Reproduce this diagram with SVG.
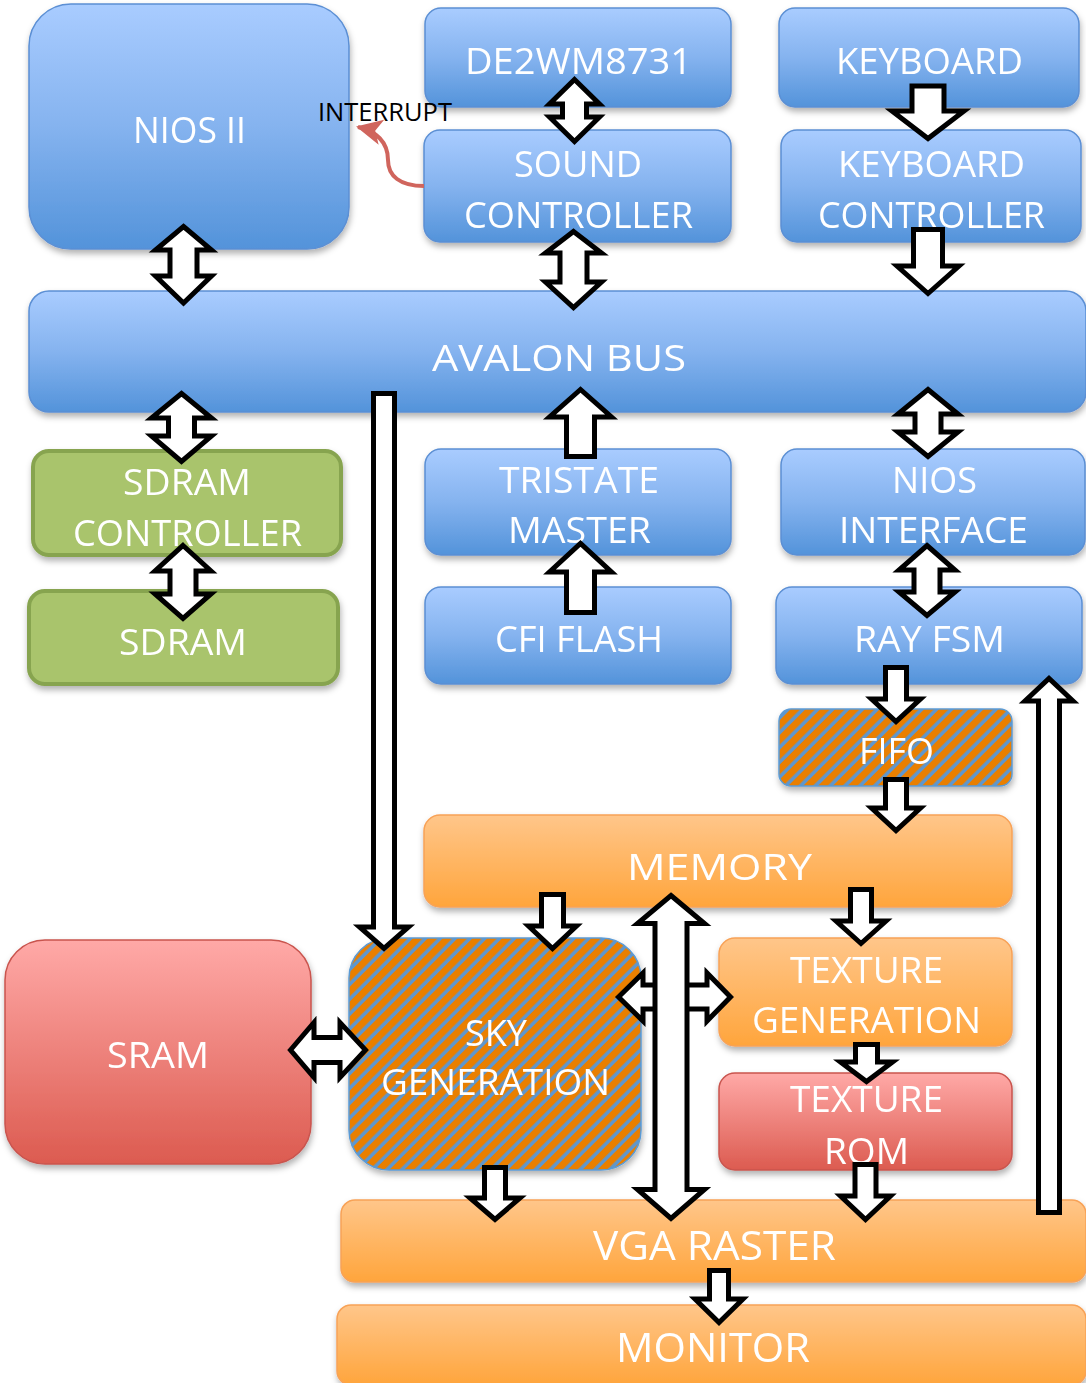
<svg xmlns="http://www.w3.org/2000/svg" width="1086" height="1383" viewBox="0 0 1086 1383">
  <style>
    .lbl { font-family: "Open Sans", "Noto Sans", "Liberation Sans", sans-serif; font-size: 37px; fill: #ffffff; text-anchor: middle; }
    .big { font-size: 41px; }
    .note { font-family: "Open Sans", "Noto Sans", "Liberation Sans", sans-serif; font-size: 25px; fill: #000000; }
    .blue { fill: url(#gBlue); stroke: #5b8fd4; stroke-width: 1.5; }
    .orange { fill: url(#gOrange); stroke: #f8a257; stroke-width: 1.5; }
    .red { fill: url(#gRed); stroke: #c9544e; stroke-width: 1.5; }
    .green { fill: #a9c46c; stroke: #87a450; stroke-width: 4; }
    .hatch { fill: url(#stripes); stroke: #5b9bd5; stroke-width: 1.5; }
    .arr { fill: #ffffff; stroke: #000000; stroke-width: 5; stroke-linejoin: miter; stroke-miterlimit: 10; }
    .irq { fill: none; stroke: #d0655d; stroke-width: 4; }
  </style>
  <defs>
    <linearGradient id="gBlue" x1="0" y1="0" x2="0" y2="1">
      <stop offset="0" stop-color="#a9ccff"/>
      <stop offset="0.5" stop-color="#85b3ef"/>
      <stop offset="1" stop-color="#5393da"/>
    </linearGradient>
    <linearGradient id="gOrange" x1="0" y1="0" x2="0" y2="1">
      <stop offset="0" stop-color="#ffc68a"/>
      <stop offset="1" stop-color="#ffa53c"/>
    </linearGradient>
    <linearGradient id="gRed" x1="0" y1="0" x2="0" y2="1">
      <stop offset="0" stop-color="#ffa9a7"/>
      <stop offset="1" stop-color="#dc5b50"/>
    </linearGradient>
    <pattern id="stripes" patternUnits="userSpaceOnUse" width="10.5" height="10.5" patternTransform="rotate(45)">
      <rect x="0" y="0" width="10.5" height="10.5" fill="#5b97d1"/>
      <rect x="0" y="0" width="7" height="10.5" fill="#e97f04"/>
    </pattern>
    <filter id="shadow" x="-10%" y="-10%" width="120%" height="130%">
      <feDropShadow dx="1" dy="4" stdDeviation="3" flood-color="#000000" flood-opacity="0.3"/>
    </filter>
    <marker id="irqHead" markerWidth="8" markerHeight="8" refX="6" refY="4" orient="auto" markerUnits="strokeWidth">
      <path d="M0,0.8 L6.5,4 L0,7.2 L1.6,4 Z" fill="#d0655d"/>
    </marker>
  </defs>

  <!-- blocks -->
  <g id="nodes" filter="url(#shadow)">
    <g id="nios2">
      <rect class="blue" x="29" y="4" width="320" height="245" rx="42"/>
      <text class="lbl" x="189.5" y="143" textLength="113" lengthAdjust="spacingAndGlyphs">NIOS II</text>
    </g>
    <g id="de2wm8731">
      <rect class="blue" x="425" y="8" width="306" height="99" rx="16"/>
      <text class="lbl" x="578.5" y="74" textLength="227" lengthAdjust="spacingAndGlyphs">DE2WM8731</text>
    </g>
    <g id="keyboard">
      <rect class="blue" x="779" y="8" width="300" height="99" rx="16"/>
      <text class="lbl" x="929.5" y="74" textLength="187" lengthAdjust="spacingAndGlyphs">KEYBOARD</text>
    </g>
    <g id="sound-controller">
      <rect class="blue" x="424" y="130" width="307" height="112" rx="16"/>
      <text class="lbl" x="578" y="177" textLength="128" lengthAdjust="spacingAndGlyphs">SOUND</text>
      <text class="lbl" x="578.5" y="228" textLength="229" lengthAdjust="spacingAndGlyphs">CONTROLLER</text>
    </g>
    <g id="keyboard-controller">
      <rect class="blue" x="781" y="130" width="300" height="112" rx="16"/>
      <text class="lbl" x="931.5" y="177" textLength="187" lengthAdjust="spacingAndGlyphs">KEYBOARD</text>
      <text class="lbl" x="931.5" y="228" textLength="227" lengthAdjust="spacingAndGlyphs">CONTROLLER</text>
    </g>
    <g id="avalon-bus">
      <rect class="blue" x="29" y="291" width="1057" height="121" rx="20"/>
      <text class="lbl" x="559" y="371" textLength="254" lengthAdjust="spacingAndGlyphs">AVALON BUS</text>
    </g>
    <g id="sdram-controller">
      <rect class="green" x="33" y="451" width="308" height="104" rx="16"/>
      <text class="lbl" x="187" y="495" textLength="128" lengthAdjust="spacingAndGlyphs">SDRAM</text>
      <text class="lbl" x="187.5" y="546" textLength="229" lengthAdjust="spacingAndGlyphs">CONTROLLER</text>
    </g>
    <g id="sdram">
      <rect class="green" x="29" y="591" width="309" height="93" rx="16"/>
      <text class="lbl" x="183" y="655" textLength="128" lengthAdjust="spacingAndGlyphs">SDRAM</text>
    </g>
    <g id="tristate-master">
      <rect class="blue" x="425" y="449" width="306" height="106" rx="16"/>
      <text class="lbl" x="579" y="493" textLength="160" lengthAdjust="spacingAndGlyphs">TRISTATE</text>
      <text class="lbl" x="579.5" y="543" textLength="143" lengthAdjust="spacingAndGlyphs">MASTER</text>
    </g>
    <g id="cfi-flash">
      <rect class="blue" x="425" y="587" width="306" height="97" rx="16"/>
      <text class="lbl" x="579" y="652" textLength="168" lengthAdjust="spacingAndGlyphs">CFI FLASH</text>
    </g>
    <g id="nios-interface">
      <rect class="blue" x="781" y="449" width="304" height="106" rx="16"/>
      <text class="lbl" x="934.5" y="493" textLength="85" lengthAdjust="spacingAndGlyphs">NIOS</text>
      <text class="lbl" x="933.5" y="543" textLength="189" lengthAdjust="spacingAndGlyphs">INTERFACE</text>
    </g>
    <g id="ray-fsm">
      <rect class="blue" x="776" y="587" width="306" height="97" rx="16"/>
      <text class="lbl" x="929.5" y="652" textLength="151" lengthAdjust="spacingAndGlyphs">RAY FSM</text>
    </g>
    <g id="fifo">
      <rect class="hatch" x="779" y="709" width="233" height="77" rx="12"/>
      <text class="lbl" x="896.5" y="764" textLength="75" lengthAdjust="spacingAndGlyphs">FIFO</text>
    </g>
    <g id="memory">
      <rect class="orange" x="424" y="815" width="588" height="92" rx="16"/>
      <text class="lbl" x="719.5" y="880" textLength="185" lengthAdjust="spacingAndGlyphs">MEMORY</text>
    </g>
    <g id="sram">
      <rect class="red" x="5" y="940" width="306" height="224" rx="40"/>
      <text class="lbl" x="158" y="1068" textLength="102" lengthAdjust="spacingAndGlyphs">SRAM</text>
    </g>
    <g id="sky-generation">
      <rect class="hatch" x="349" y="938" width="292" height="232" rx="40"/>
      <text class="lbl" x="496" y="1046" textLength="62" lengthAdjust="spacingAndGlyphs">SKY</text>
      <text class="lbl" x="495.5" y="1095" textLength="229" lengthAdjust="spacingAndGlyphs">GENERATION</text>
    </g>
    <g id="texture-generation">
      <rect class="orange" x="719" y="938" width="293" height="108" rx="16"/>
      <text class="lbl" x="866.5" y="983" textLength="153" lengthAdjust="spacingAndGlyphs">TEXTURE</text>
      <text class="lbl" x="866.5" y="1033" textLength="229" lengthAdjust="spacingAndGlyphs">GENERATION</text>
    </g>
    <g id="texture-rom">
      <rect class="red" x="719" y="1073" width="293" height="97" rx="16"/>
      <text class="lbl" x="866.5" y="1112" textLength="153" lengthAdjust="spacingAndGlyphs">TEXTURE</text>
      <text class="lbl" x="866.5" y="1164" textLength="85" lengthAdjust="spacingAndGlyphs">ROM</text>
    </g>
    <g id="vga-raster">
      <rect class="orange" x="341" y="1200" width="745" height="82" rx="14"/>
      <text class="lbl big" x="714.5" y="1260" textLength="243" lengthAdjust="spacingAndGlyphs">VGA RASTER</text>
    </g>
    <g id="monitor">
      <rect class="orange" x="337" y="1305" width="749" height="80" rx="14"/>
      <text class="lbl big" x="713" y="1362" textLength="194" lengthAdjust="spacingAndGlyphs">MONITOR</text>
    </g>
  </g>

  <!-- interrupt line from the sound controller back to the processor -->
  <g id="interrupt">
    <path class="irq" d="M424,186 C400,186 388,176 388,160 C388,142 376,131 358,127" marker-end="url(#irqHead)"/>
    <text class="note" x="318" y="121" textLength="134" lengthAdjust="spacingAndGlyphs">INTERRUPT</text>
  </g>

  <!-- block arrows -->
  <g id="connectors">
    <polygon class="arr" points="183.5,226.5 211.5,250 197,250 197,276 211.5,276 183.5,303 155.5,276 170,276 170,250 155.5,250"/>
    <polygon class="arr" points="574.5,79.5 599.5,104 586.5,104 586.5,117 599.5,117 574.5,141.5 549.5,117 562.5,117 562.5,104 549.5,104"/>
    <polygon class="arr" points="573.5,231.5 601.5,253 587,253 587,282 601.5,282 573.5,307.5 545.5,282 560,282 560,253 545.5,253"/>
    <polygon class="arr" points="912,86 944,86 944,111 964,111 928,138.5 892,111 912,111"/>
    <polygon class="arr" points="913.5,229.5 942.5,229.5 942.5,266 959,266 928,293.5 897,266 913.5,266"/>
    <polygon class="arr" points="181.5,393.5 211.5,418 194.5,418 194.5,436 211.5,436 181.5,461.5 151.5,436 168.5,436 168.5,418 151.5,418"/>
    <polygon class="arr" points="183,545.5 211,571 196,571 196,594 211,594 183,618.5 155,594 170,594 170,571 155,571"/>
    <polygon class="arr" points="373.5,393.5 394.5,393.5 394.5,927 408.5,927 384,948.5 359.5,927 373.5,927"/>
    <polygon class="arr" points="566.5,456.5 566.5,417 549.5,417 580.5,389.5 611.5,417 594.5,417 594.5,456.5"/>
    <polygon class="arr" points="566.5,612.5 566.5,572 549.5,572 580.5,543.5 611.5,572 594.5,572 594.5,612.5"/>
    <polygon class="arr" points="928,389.5 958,414 941,414 941,432 958,432 928,456.5 898,432 915,432 915,414 898,414"/>
    <polygon class="arr" points="927,545.5 955,570 940,570 940,592 955,592 927,615.5 899,592 914,592 914,570 899,570"/>
    <polygon class="arr" points="885.5,667.5 906.5,667.5 906.5,699 920.5,699 896,721.5 871.5,699 885.5,699"/>
    <polygon class="arr" points="885.5,779.5 906.5,779.5 906.5,808 920.5,808 896,830.5 871.5,808 885.5,808"/>
    <polygon class="arr" points="1038.5,1212.5 1038.5,701 1025,701 1049,678.5 1073,701 1059.5,701 1059.5,1212.5"/>
    <polygon class="arr" points="541.5,894.5 563.5,894.5 563.5,926 576.5,926 552.5,948.5 528.5,926 541.5,926"/>
    <polygon class="arr" points="618.5,997 643,973 643,985 707,985 707,973 730.5,997 707,1021 707,1009 643,1009 643,1021"/>
    <polygon class="arr" points="671,895.5 704.5,923.5 687,923.5 687,1189.5 704.5,1189.5 671,1218.5 637.5,1189.5 655,1189.5 655,923.5 637.5,923.5"/>
    <polygon class="arr" points="484.5,1167.5 505.5,1167.5 505.5,1198 520,1198 495,1219.5 470,1198 484.5,1198"/>
    <polygon class="arr" points="850.5,889.5 871.5,889.5 871.5,921 886,921 861,943.5 836,921 850.5,921"/>
    <polygon class="arr" points="855.5,1044.5 877.5,1044.5 877.5,1062 892.5,1062 866.5,1081.5 840.5,1062 855.5,1062"/>
    <polygon class="arr" points="855,1164.5 876,1164.5 876,1196 890.5,1196 865.5,1219.5 840.5,1196 855,1196"/>
    <polygon class="arr" points="709.5,1270.5 728.5,1270.5 728.5,1299 743,1299 719,1322.5 695,1299 709.5,1299"/>
    <polygon class="arr" points="290.5,1050 314,1022.5 314,1037.5 340,1037.5 340,1022.5 365.5,1050 340,1077.5 340,1062.5 314,1062.5 314,1077.5"/>
  </g>
</svg>
